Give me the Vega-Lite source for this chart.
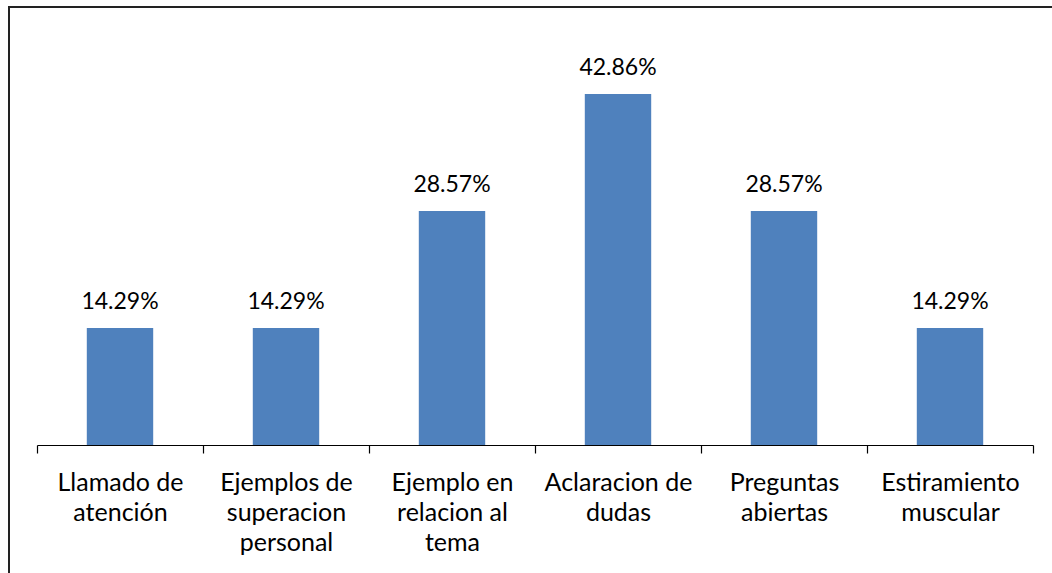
{
  "$schema": "https://vega.github.io/schema/vega-lite/v6.json",
  "autosize": {"type": "none"},
  "padding": {"left": 9, "top": 7, "right": 0, "bottom": 0},
  "width": 1060,
  "height": 575,
  "background": "white",
  "config": {
    "view": {"stroke": "#222222", "strokeWidth": 2},
    "font": "Lato"
  },
  "data": {
    "values": [
      {"categoria": "Llamado de atención", "porcentaje": 0.1429},
      {"categoria": "Ejemplos de superacion personal", "porcentaje": 0.1429},
      {"categoria": "Ejemplo en relacion al tema", "porcentaje": 0.2857},
      {"categoria": "Aclaracion de dudas", "porcentaje": 0.4286},
      {"categoria": "Preguntas abiertas", "porcentaje": 0.2857},
      {"categoria": "Estiramiento muscular", "porcentaje": 0.1429}
    ]
  },
  "encoding": {
    "x": {
      "field": "categoria",
      "type": "nominal",
      "sort": null,
      "scale": {"range": [28, 1024], "paddingInner": 0, "paddingOuter": 0},
      "axis": {
        "title": null,
        "offset": -137,
        "tickBand": "extent",
        "labelAngle": 0,
        "labelFont": "Lato",
        "labelFontSize": 25,
        "labelColor": "#000000",
        "labelLineHeight": 30,
        "labelPadding": 17,
        "labelLimit": 200,
        "domainColor": "#000000",
        "domainWidth": 1.2,
        "tickColor": "#000000",
        "tickSize": 8,
        "tickWidth": 1.2,
        "labelExpr": "{'Llamado de atención': ['Llamado de', 'atención'], 'Ejemplos de superacion personal': ['Ejemplos de', 'superacion', 'personal'], 'Ejemplo en relacion al tema': ['Ejemplo en', 'relacion al', 'tema'], 'Aclaracion de dudas': ['Aclaracion de', 'dudas'], 'Preguntas abiertas': ['Preguntas', 'abiertas'], 'Estiramiento muscular': ['Estiramiento', 'muscular']}[datum.label]"
      }
    },
    "y": {
      "field": "porcentaje",
      "type": "quantitative",
      "scale": {"domain": [0, 0.4286], "range": [438, 87]},
      "axis": null
    }
  },
  "layer": [
    {"mark": {"type": "bar", "color": "#4F81BD", "width": {"band": 0.4}}},
    {
      "mark": {"type": "text", "fontSize": 23, "font": "Lato", "color": "#000000", "baseline": "alphabetic", "dy": -19},
      "encoding": {
        "text": {"field": "porcentaje", "type": "quantitative", "format": ".2%"}
      }
    }
  ]
}
